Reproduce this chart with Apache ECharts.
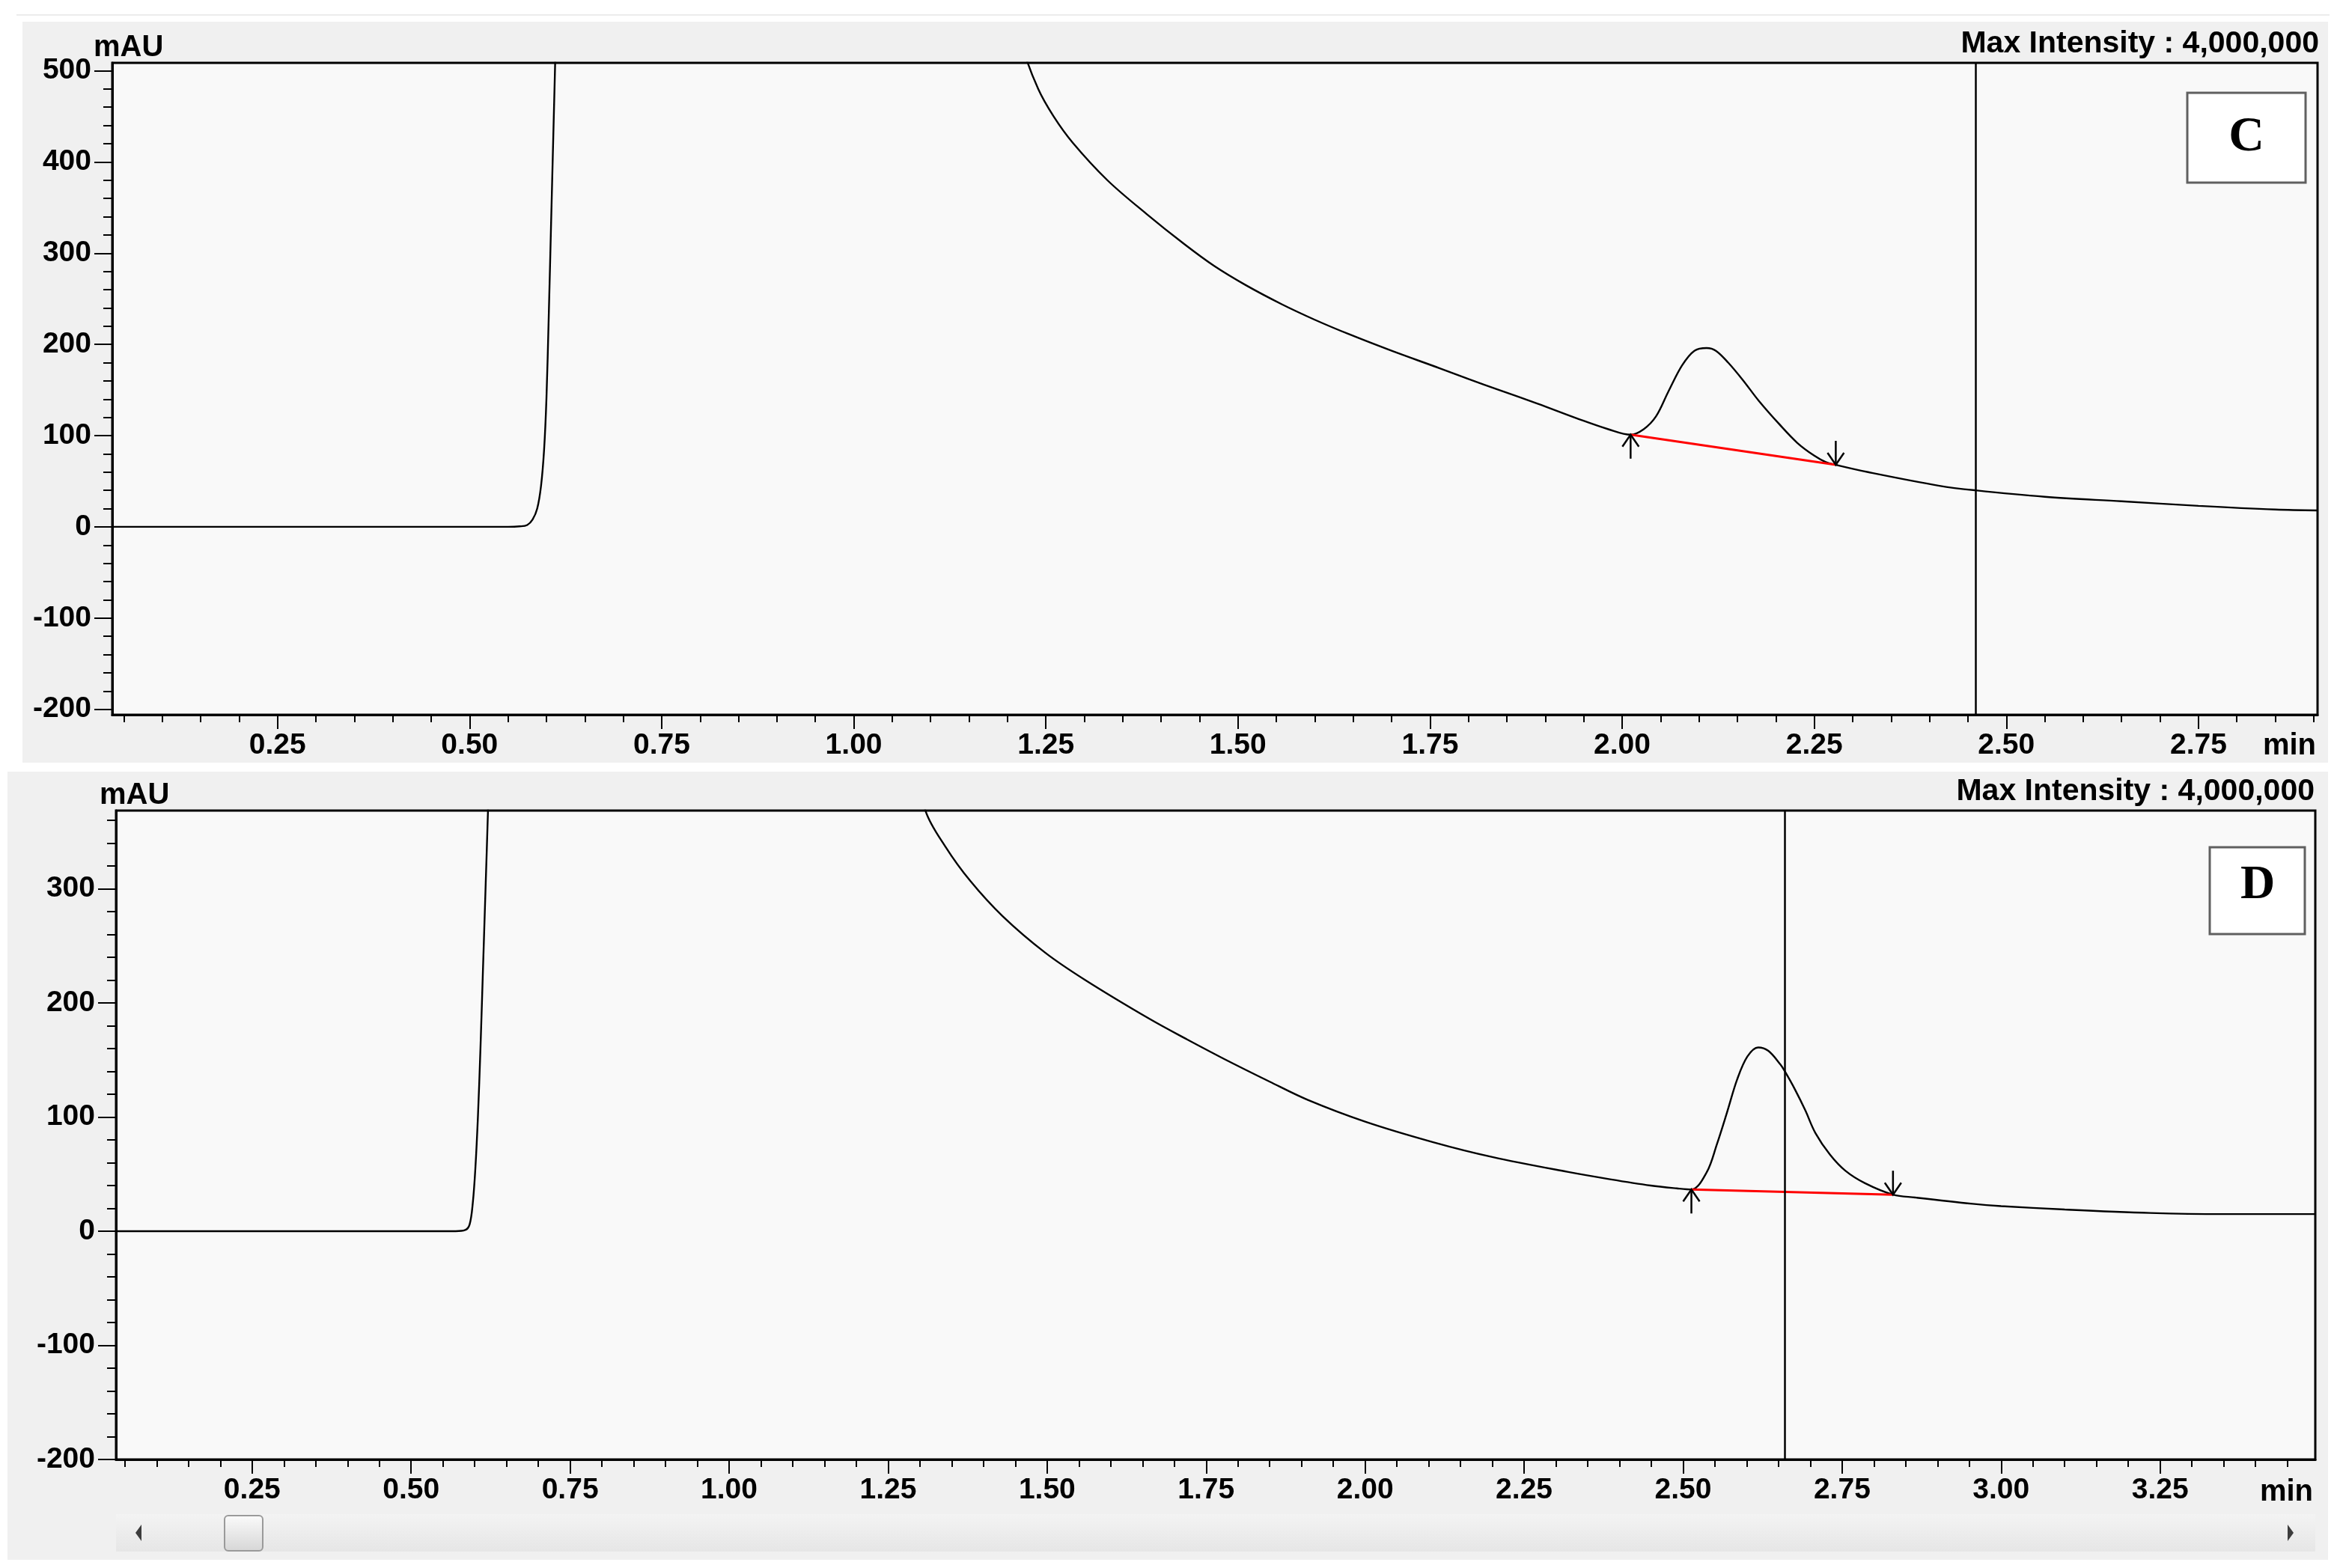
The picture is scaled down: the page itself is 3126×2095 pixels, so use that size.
<!DOCTYPE html>
<html>
<head>
<meta charset="utf-8">
<script src="https://cdn.jsdelivr.net/npm/echarts@6/dist/echarts.min.js"></script>
<style>
html,body{margin:0;padding:0;background:#ffffff;}
#chart{width:3126px;height:2095px;}
</style>
</head>
<body>
<div id="chart"></div>
<script>
// ---------- Panel C data ----------
const cTime = [0.035, 0.30, 0.55, 0.565, 0.575, 0.582, 0.588, 0.593, 0.597, 0.600, 0.603, 0.606, 0.609, 0.612, 0.615,
  1.19, 1.205, 1.22, 1.24, 1.26, 1.285, 1.33, 1.381, 1.43, 1.469, 1.51, 1.557, 1.60, 1.645, 1.70, 1.762, 1.80, 1.84, 1.89,
  1.944, 1.982, 2.011, 2.028, 2.044, 2.060, 2.078, 2.094, 2.110, 2.122, 2.138, 2.157, 2.178, 2.204, 2.228, 2.250, 2.265, 2.278,
  2.32, 2.413, 2.46, 2.55, 2.65, 2.75, 2.85, 2.905];
const cSignal = [0, 0, 0, 0.5, 2, 8, 20, 45, 85, 140, 230, 330, 430, 530, 640,
  640, 580, 525, 480, 450, 421, 380, 343, 310, 286, 265, 244, 227, 211, 193, 174, 162, 150, 135,
  118, 107, 101, 107, 121, 148, 177, 193, 196, 193, 180, 161, 138, 113, 92, 78, 71, 68,
  60, 45, 40, 33, 28, 23, 19, 18];
const cBaseTime = [2.011, 2.278];
const cBaseSignal = [101, 68];
const cMarkTime = [2.011, 2.278];
const cMarkSignal = [101, 68];
const cMarkDir = [1, -1];
const cCursor = 2.455;
const cXTicks = [0.25, 0.50, 0.75, 1.00, 1.25, 1.50, 1.75, 2.00, 2.25, 2.50, 2.75];
const cYTicks = [-200, -100, 0, 100, 200, 300, 400, 500];

// ---------- Panel D data ----------
const dTime = [0.036, 0.30, 0.57, 0.585, 0.592, 0.597, 0.601, 0.605, 0.609, 0.613, 0.617, 0.621, 0.625,
  1.28, 1.29, 1.309, 1.34, 1.379, 1.43, 1.497, 1.56, 1.661, 1.72, 1.778, 1.85, 1.910, 2.0, 2.107, 2.2, 2.318,
  2.385, 2.449, 2.490, 2.513, 2.537, 2.553, 2.569, 2.585, 2.601, 2.618, 2.634, 2.653, 2.660, 2.676, 2.692, 2.708,
  2.731, 2.755, 2.786, 2.830, 2.865, 2.955, 3.0, 3.1, 3.234, 3.35, 3.494];
const dSignal = [0, 0, 0, 1, 6, 25, 55, 100, 160, 230, 300, 371, 450,
  440, 420, 368, 337, 307, 276, 244, 220, 186, 168, 151, 131, 115, 96, 78, 65, 52,
  45.5, 40, 37.5, 36.5, 51.5, 76, 104, 133, 153, 161, 158, 146, 140, 124, 106, 86,
  67, 53, 42, 32, 29.5, 24, 22, 19, 16, 15, 15];
const dBaseTime = [2.513, 2.830];
const dBaseSignal = [36.5, 32];
const dMarkTime = [2.513, 2.830];
const dMarkSignal = [36.5, 32];
const dMarkDir = [1, -1];
const dCursor = 2.66;
const dXTicks = [0.25, 0.50, 0.75, 1.00, 1.25, 1.50, 1.75, 2.00, 2.25, 2.50, 2.75, 3.00, 3.25];
const dYTicks = [-200, -100, 0, 100, 200, 300];

const maxIntensityText = 'Max Intensity : 4,000,000';
const yUnit = 'mAU';
const xUnit = 'min';

// ---------- helpers ----------
function steps(a, b, s) {
  const out = [];
  const n = Math.round((b - a) / s);
  for (let i = 0; i <= n; i++) out.push(+(a + i * s).toFixed(4));
  return out;
}
function pairs(xs, ys) { return xs.map((x, i) => [x, ys[i]]); }
function triples(xs, ys, zs) { return xs.map((x, i) => [x, ys[i], zs[i]]); }

const FONT = 'Liberation Sans, Arial, sans-serif';
const tickLabel = {fontSize: 39, fontWeight: 'bold', fontFamily: FONT, color: '#000'};

function xAxesFor(gi, min, max, majors, minors) {
  return [
    {type: 'value', gridIndex: gi, position: 'bottom', min: min, max: max,
      axisLine: {show: true, onZero: false, lineStyle: {color: '#000', width: 3}},
      axisTick: {show: true, customValues: majors, length: 19, lineStyle: {color: '#000', width: 2}},
      axisLabel: Object.assign({show: true, customValues: majors, margin: 22, formatter: v => v.toFixed(2)}, tickLabel),
      splitLine: {show: false}},
    {type: 'value', gridIndex: gi, position: 'bottom', min: min, max: max,
      axisLine: {show: false, onZero: false},
      axisTick: {show: true, customValues: minors, length: 10, lineStyle: {color: '#000', width: 2}},
      axisLabel: {show: false}, splitLine: {show: false}}
  ];
}
function yAxesFor(gi, min, max, majors, minors) {
  return [
    {type: 'value', gridIndex: gi, position: 'left', min: min, max: max,
      axisLine: {show: true, onZero: false, lineStyle: {color: '#000', width: 3}},
      axisTick: {show: true, customValues: majors, length: 24, lineStyle: {color: '#000', width: 2}},
      axisLabel: Object.assign({show: true, customValues: majors, margin: 28, formatter: v => String(Math.round(v))}, tickLabel),
      splitLine: {show: false}},
    {type: 'value', gridIndex: gi, position: 'left', min: min, max: max,
      axisLine: {show: false, onZero: false},
      axisTick: {show: true, customValues: minors, length: 12, lineStyle: {color: '#000', width: 2}},
      axisLabel: {show: false}, splitLine: {show: false}}
  ];
}

function arrowRender(params, api) {
  const p = api.coord([api.value(0), api.value(1)]);
  const d = api.value(2);
  const L = 32, ax = 11, ay = 16;
  return {
    type: 'group',
    children: [
      {type: 'line', shape: {x1: p[0], y1: p[1], x2: p[0], y2: p[1] + d * L},
        style: {stroke: '#000', lineWidth: 2.5}},
      {type: 'polyline', shape: {points: [[p[0] - ax, p[1] + d * ay], [p[0], p[1]], [p[0] + ax, p[1] + d * ay]]},
        style: {stroke: '#000', lineWidth: 2.5, fill: null}}
    ]
  };
}

function curveSeries(xi, yi, data, cursor) {
  return {
    type: 'line', xAxisIndex: xi, yAxisIndex: yi, data: data,
    symbol: 'none', showSymbol: false, smooth: 0.35,
    lineStyle: {color: '#000', width: 2.4}, z: 3, silent: true,
    markLine: {silent: true, symbol: ['none', 'none'], label: {show: false},
      lineStyle: {color: '#000', width: 2.5, type: 'solid'}, data: [{xAxis: cursor}]}
  };
}

const chart = echarts.init(document.getElementById('chart'), null, {renderer: 'canvas'});

const option = {
  animation: false,
  backgroundColor: '#ffffff',
  grid: [
    {left: 150, top: 84, width: 2946, height: 871, show: true, backgroundColor: '#f9f9f9', borderColor: '#000', borderWidth: 3, containLabel: false},
    {left: 155, top: 1083, width: 2938, height: 867, show: true, backgroundColor: '#f9f9f9', borderColor: '#000', borderWidth: 3, containLabel: false}
  ],
  xAxis: [].concat(
    xAxesFor(0, 0.035, 2.905, cXTicks, steps(0.05, 2.90, 0.05)),
    xAxesFor(1, 0.036, 3.494, dXTicks, steps(0.05, 3.45, 0.05))
  ),
  yAxis: [].concat(
    yAxesFor(0, -206, 508.6, cYTicks, steps(-200, 500, 20)),
    yAxesFor(1, -200, 368.5, dYTicks, steps(-200, 360, 20))
  ),
  series: [
    curveSeries(0, 0, pairs(cTime, cSignal), cCursor),
    {type: 'line', xAxisIndex: 0, yAxisIndex: 0, data: pairs(cBaseTime, cBaseSignal), symbol: 'none',
      lineStyle: {color: '#ff0000', width: 3}, z: 4, silent: true},
    {type: 'custom', xAxisIndex: 0, yAxisIndex: 0, data: triples(cMarkTime, cMarkSignal, cMarkDir),
      renderItem: arrowRender, z: 5, silent: true, clip: false},
    curveSeries(2, 2, pairs(dTime, dSignal), dCursor),
    {type: 'line', xAxisIndex: 2, yAxisIndex: 2, data: pairs(dBaseTime, dBaseSignal), symbol: 'none',
      lineStyle: {color: '#ff0000', width: 3}, z: 4, silent: true},
    {type: 'custom', xAxisIndex: 2, yAxisIndex: 2, data: triples(dMarkTime, dMarkSignal, dMarkDir),
      renderItem: arrowRender, z: 5, silent: true, clip: false}
  ],
  graphic: {
    elements: [
      // panel backgrounds
      {type: 'rect', z: -10, silent: true, shape: {x: 22, y: 19, width: 3090, height: 2}, style: {fill: '#ececec'}},
      {type: 'rect', z: -10, silent: true, shape: {x: 30, y: 29, width: 3080, height: 990}, style: {fill: '#f0f0f0'}},
      {type: 'rect', z: -10, silent: true, shape: {x: 10, y: 1031, width: 3100, height: 1053}, style: {fill: '#f0f0f0'}},
      // texts panel C
      {type: 'text', z: 50, silent: true, style: {text: yUnit, x: 125, y: 64, textVerticalAlign: 'middle', textAlign: 'left',
        font: 'bold 40px ' + FONT, fill: '#000'}},
      {type: 'text', z: 50, silent: true, style: {text: maxIntensityText, x: 3098, y: 59, textVerticalAlign: 'middle', textAlign: 'right',
        font: 'bold 41px ' + FONT, fill: '#000'}},
      {type: 'text', z: 50, silent: true, style: {text: xUnit, x: 3094, y: 997, textVerticalAlign: 'middle', textAlign: 'right',
        font: 'bold 40px ' + FONT, fill: '#000'}},
      // texts panel D
      {type: 'text', z: 50, silent: true, style: {text: yUnit, x: 133, y: 1063, textVerticalAlign: 'middle', textAlign: 'left',
        font: 'bold 40px ' + FONT, fill: '#000'}},
      {type: 'text', z: 50, silent: true, style: {text: maxIntensityText, x: 3092, y: 1058, textVerticalAlign: 'middle', textAlign: 'right',
        font: 'bold 41px ' + FONT, fill: '#000'}},
      {type: 'text', z: 50, silent: true, style: {text: xUnit, x: 3090, y: 1994, textVerticalAlign: 'middle', textAlign: 'right',
        font: 'bold 40px ' + FONT, fill: '#000'}},
      // label boxes
      {type: 'rect', z: 50, silent: true, shape: {x: 2922, y: 124, width: 158, height: 120},
        style: {fill: '#ffffff', stroke: '#606060', lineWidth: 3}},
      {type: 'text', z: 51, silent: true, style: {text: 'C', x: 3001, y: 184, textVerticalAlign: 'middle', textAlign: 'center',
        font: 'bold 66px "Liberation Serif", "Times New Roman", serif', fill: '#000'}},
      {type: 'rect', z: 50, silent: true, shape: {x: 2952, y: 1132, width: 127, height: 116},
        style: {fill: '#ffffff', stroke: '#606060', lineWidth: 3}},
      {type: 'text', z: 51, silent: true, style: {text: 'D', x: 3016, y: 1183, textVerticalAlign: 'middle', textAlign: 'center',
        font: 'bold 64px "Liberation Serif", "Times New Roman", serif', fill: '#000'}},
      // scroll bar
      {type: 'rect', z: 40, silent: true, shape: {x: 155, y: 2023, width: 2938, height: 50},
        style: {fill: new echarts.graphic.LinearGradient(0, 0, 0, 1, [{offset: 0, color: '#f3f3f3'}, {offset: 1, color: '#e6e6e6'}])}},
      {type: 'rect', z: 41, silent: true, shape: {x: 300, y: 2025, width: 51, height: 47, r: 5},
        style: {fill: new echarts.graphic.LinearGradient(0, 0, 0, 1, [{offset: 0, color: '#fbfbfb'}, {offset: 1, color: '#d6d6d6'}]), stroke: '#9a9a9a', lineWidth: 2}},
      {type: 'polygon', z: 41, silent: true, shape: {points: [[181, 2048], [189, 2037], [189, 2059]]}, style: {fill: '#3c3c3c'}},
      {type: 'polygon', z: 41, silent: true, shape: {points: [[3064, 2048], [3056, 2037], [3056, 2059]]}, style: {fill: '#3c3c3c'}}
    ]
  }
};
chart.setOption(option);
</script>
</body>
</html>
